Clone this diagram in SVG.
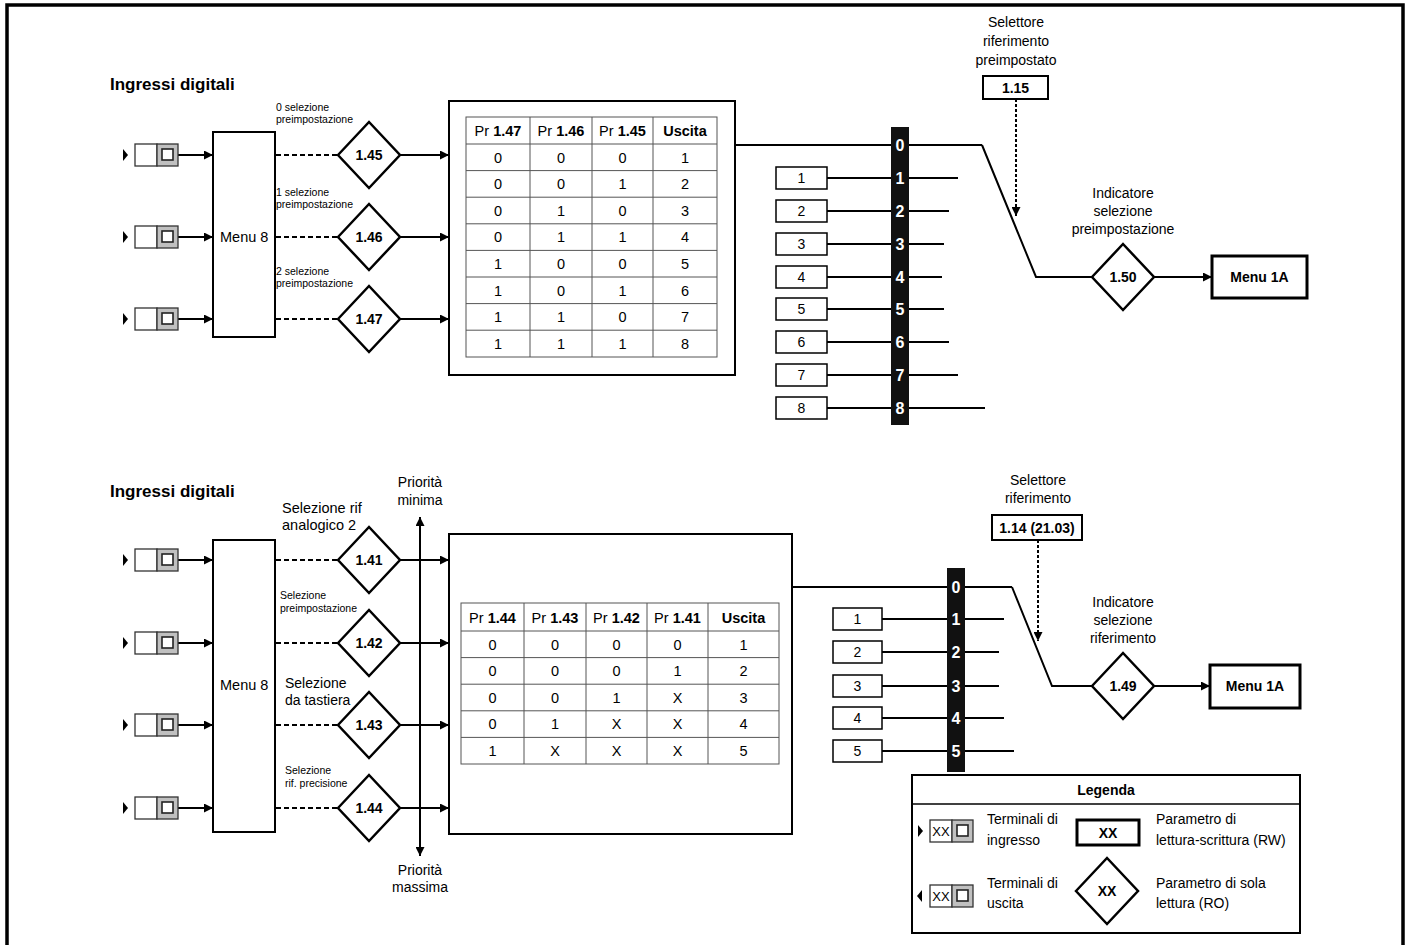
<svg xmlns="http://www.w3.org/2000/svg" xmlns:xlink="http://www.w3.org/1999/xlink" width="1412" height="945" viewBox="0 0 1412 945">
<style>
text{font-family:"Liberation Sans",Arial,sans-serif;fill:#000}
.t14{font-size:14px}
.t15{font-size:14.5px}
.t13{font-size:14.5px}
.t10{font-size:10.5px}
.b{font-weight:bold}
.mid{text-anchor:middle}
.ln{stroke:#000;stroke-width:2;fill:none}
.arr{marker-end:url(#ah)}
.dash{stroke:#000;stroke-width:2;stroke-dasharray:5 3;fill:none}
.dot{stroke:#000;stroke-width:2;stroke-dasharray:3 2;fill:none}
.box{fill:#fff;stroke:#000;stroke-width:2}
.thick{fill:#fff;stroke:#000;stroke-width:3}
.nb{fill:#fff;stroke:#000;stroke-width:1.5}
.tbl{stroke:#555;stroke-width:1;fill:none}
.bus{fill:#111}
.bd{font-size:16px;font-weight:bold;fill:#fff;text-anchor:middle}
.dia{fill:#fff;stroke:#000;stroke-width:2.5}
</style>
<defs>
<marker id="ah" viewBox="0 0 10 10" refX="10" refY="5" markerWidth="11" markerHeight="9" markerUnits="userSpaceOnUse" orient="auto-start-reverse"><path d="M0,0 L10,5 L0,10 z" fill="#000"/></marker>
<g id="term">
<path d="M-12,-6 L-7,0 L-12,6 z" fill="#000"/>
<rect x="0" y="-11" width="22" height="22" fill="#fff" stroke="#333" stroke-width="1.3"/>
<rect x="22" y="-11" width="21" height="22" fill="#c0c0c0" stroke="#333" stroke-width="1.3"/>
<rect x="27" y="-6" width="11" height="11" fill="#fff" stroke="#222" stroke-width="1.6"/>
</g>
<path id="dmd" d="M-31,0 L0,-33 L31,0 L0,33 z"/>
</defs>

<rect x="7" y="5" width="1396" height="945" fill="none" stroke="#000" stroke-width="3.5"/>

<!-- ===== TOP SECTION ===== -->
<text x="110" y="90" class="b" font-size="17">Ingressi digitali</text>

<g id="connectors">
<!-- top -->
<line x1="178" y1="155" x2="213" y2="155" class="ln arr"/>
<line x1="178" y1="237" x2="213" y2="237" class="ln arr"/>
<line x1="178" y1="319" x2="213" y2="319" class="ln arr"/>
<line x1="276" y1="155" x2="338" y2="155" class="dash"/>
<line x1="276" y1="237" x2="338" y2="237" class="dash"/>
<line x1="276" y1="319" x2="338" y2="319" class="dash"/>
<line x1="400" y1="155" x2="449" y2="155" class="ln arr"/>
<line x1="400" y1="237" x2="449" y2="237" class="ln arr"/>
<line x1="400" y1="319" x2="449" y2="319" class="ln arr"/>
<line x1="735" y1="145" x2="982" y2="145" class="ln"/>
<line x1="827" y1="178" x2="958" y2="178" class="ln"/>
<line x1="827" y1="211" x2="949" y2="211" class="ln"/>
<line x1="827" y1="244" x2="944" y2="244" class="ln"/>
<line x1="827" y1="277" x2="942" y2="277" class="ln"/>
<line x1="827" y1="309" x2="944" y2="309" class="ln"/>
<line x1="827" y1="342" x2="949" y2="342" class="ln"/>
<line x1="827" y1="375" x2="958" y2="375" class="ln"/>
<line x1="827" y1="408" x2="985" y2="408" class="ln"/>
<polyline points="982,145 1036,277 1092,277" class="ln"/>
<line x1="1016" y1="99" x2="1016" y2="216" class="dot arr"/>
<line x1="1154" y1="277" x2="1212" y2="277" class="ln arr"/>
<!-- bottom -->
<line x1="178" y1="560" x2="213" y2="560" class="ln arr"/>
<line x1="178" y1="643" x2="213" y2="643" class="ln arr"/>
<line x1="178" y1="725" x2="213" y2="725" class="ln arr"/>
<line x1="178" y1="808" x2="213" y2="808" class="ln arr"/>
<line x1="276" y1="560" x2="338" y2="560" class="dash"/>
<line x1="276" y1="643" x2="338" y2="643" class="dash"/>
<line x1="276" y1="725" x2="338" y2="725" class="dash"/>
<line x1="276" y1="808" x2="338" y2="808" class="dash"/>
<line x1="400" y1="560" x2="449" y2="560" class="ln arr"/>
<line x1="400" y1="643" x2="449" y2="643" class="ln arr"/>
<line x1="400" y1="725" x2="449" y2="725" class="ln arr"/>
<line x1="400" y1="808" x2="449" y2="808" class="ln arr"/>
<line x1="420" y1="856" x2="420" y2="517" class="ln" marker-start="url(#ah)" marker-end="url(#ah)"/>
<line x1="792" y1="587" x2="1012" y2="587" class="ln"/>
<line x1="882" y1="619" x2="1004" y2="619" class="ln"/>
<line x1="882" y1="652" x2="999" y2="652" class="ln"/>
<line x1="882" y1="686" x2="999" y2="686" class="ln"/>
<line x1="882" y1="718" x2="1004" y2="718" class="ln"/>
<line x1="882" y1="751" x2="1014" y2="751" class="ln"/>
<polyline points="1012,587 1052,686 1092,686" class="ln"/>
<line x1="1038" y1="540" x2="1038" y2="641" class="dot arr"/>
<line x1="1154" y1="686" x2="1210" y2="686" class="ln arr"/>
</g>

<g id="top-inputs">
<use xlink:href="#term" x="135" y="155"/>
<use xlink:href="#term" x="135" y="237"/>
<use xlink:href="#term" x="135" y="319"/>
</g>
<g id="top-menu8">
<rect x="213" y="132" width="62" height="205" class="box"/>
<text x="220" y="242" class="t15">Menu 8</text>
</g>
<g id="top-labels">
<text x="276" y="111" class="t10">0 selezione</text>
<text x="276" y="123" class="t10">preimpostazione</text>
<text x="276" y="196" class="t10">1 selezione</text>
<text x="276" y="208" class="t10">preimpostazione</text>
<text x="276" y="275" class="t10">2 selezione</text>
<text x="276" y="287" class="t10">preimpostazione</text>
</g>
<g id="p145"><use xlink:href="#dmd" x="369" y="155" class="dia"/><text x="369" y="160" class="t14 b mid">1.45</text></g>
<g id="p146"><use xlink:href="#dmd" x="369" y="237" class="dia"/><text x="369" y="242" class="t14 b mid">1.46</text></g>
<g id="p147"><use xlink:href="#dmd" x="369" y="319" class="dia"/><text x="369" y="324" class="t14 b mid">1.47</text></g>

<g id="top-table">
<rect x="449" y="101" width="286" height="274" class="box"/>
<rect x="466" y="117" width="251" height="240" class="tbl"/>
<path class="tbl" d="M530,117V357M592,117V357M653,117V357M466,144H717M466,170.6H717M466,197.2H717M466,223.8H717M466,250.4H717M466,277H717M466,303.6H717M466,330.2H717"/>
<g class="t13">
<text x="498" y="136" class="mid">Pr <tspan class="b">1.47</tspan></text>
<text x="561" y="136" class="mid">Pr <tspan class="b">1.46</tspan></text>
<text x="622.5" y="136" class="mid">Pr <tspan class="b">1.45</tspan></text>
<text x="685" y="136" class="mid b">Uscita</text>
</g>
<g class="t13 mid">
<text x="498" y="162.5">0</text><text x="561" y="162.5">0</text><text x="622.5" y="162.5">0</text><text x="685" y="162.5">1</text>
<text x="498" y="189.1">0</text><text x="561" y="189.1">0</text><text x="622.5" y="189.1">1</text><text x="685" y="189.1">2</text>
<text x="498" y="215.7">0</text><text x="561" y="215.7">1</text><text x="622.5" y="215.7">0</text><text x="685" y="215.7">3</text>
<text x="498" y="242.3">0</text><text x="561" y="242.3">1</text><text x="622.5" y="242.3">1</text><text x="685" y="242.3">4</text>
<text x="498" y="268.9">1</text><text x="561" y="268.9">0</text><text x="622.5" y="268.9">0</text><text x="685" y="268.9">5</text>
<text x="498" y="295.5">1</text><text x="561" y="295.5">0</text><text x="622.5" y="295.5">1</text><text x="685" y="295.5">6</text>
<text x="498" y="322.1">1</text><text x="561" y="322.1">1</text><text x="622.5" y="322.1">0</text><text x="685" y="322.1">7</text>
<text x="498" y="348.7">1</text><text x="561" y="348.7">1</text><text x="622.5" y="348.7">1</text><text x="685" y="348.7">8</text>
</g>
</g>

<g id="top-presets">
<rect x="776" y="167" width="51" height="22" class="nb"/><text x="801.5" y="183" class="t14 mid">1</text>
<rect x="776" y="200" width="51" height="22" class="nb"/><text x="801.5" y="216" class="t14 mid">2</text>
<rect x="776" y="233" width="51" height="22" class="nb"/><text x="801.5" y="249" class="t14 mid">3</text>
<rect x="776" y="266" width="51" height="22" class="nb"/><text x="801.5" y="282" class="t14 mid">4</text>
<rect x="776" y="298" width="51" height="22" class="nb"/><text x="801.5" y="314" class="t14 mid">5</text>
<rect x="776" y="331" width="51" height="22" class="nb"/><text x="801.5" y="347" class="t14 mid">6</text>
<rect x="776" y="364" width="51" height="22" class="nb"/><text x="801.5" y="380" class="t14 mid">7</text>
<rect x="776" y="397" width="51" height="22" class="nb"/><text x="801.5" y="413" class="t14 mid">8</text>
</g>

<g id="top-bus">
<rect x="891" y="127" width="18" height="298" class="bus"/>
<text x="900" y="151" class="bd">0</text>
<text x="900" y="184" class="bd">1</text>
<text x="900" y="217" class="bd">2</text>
<text x="900" y="250" class="bd">3</text>
<text x="900" y="283" class="bd">4</text>
<text x="900" y="315" class="bd">5</text>
<text x="900" y="348" class="bd">6</text>
<text x="900" y="381" class="bd">7</text>
<text x="900" y="414" class="bd">8</text>
</g>

<g id="p115">
<text x="1016" y="27" class="t14 mid">Selettore</text>
<text x="1016" y="46" class="t14 mid">riferimento</text>
<text x="1016" y="65" class="t14 mid">preimpostato</text>
<rect x="983" y="76" width="65" height="23" class="box" stroke-width="2.5"/>
<text x="1015.5" y="93" class="t14 b mid">1.15</text>
</g>

<g id="p150">
<text x="1123" y="198" class="t14 mid">Indicatore</text>
<text x="1123" y="216" class="t14 mid">selezione</text>
<text x="1123" y="234" class="t14 mid">preimpostazione</text>
<use xlink:href="#dmd" x="1123" y="277" class="dia"/>
<text x="1123" y="282" class="t14 b mid">1.50</text>
</g>
<g id="top-menu1a">
<rect x="1212" y="256" width="95" height="42" class="thick"/>
<text x="1259.5" y="282" class="t14 b mid">Menu 1A</text>
</g>

<!-- ===== BOTTOM SECTION ===== -->
<text x="110" y="497" class="b" font-size="17">Ingressi digitali</text>

<g id="bot-inputs">
<use xlink:href="#term" x="135" y="560"/>
<use xlink:href="#term" x="135" y="643"/>
<use xlink:href="#term" x="135" y="725"/>
<use xlink:href="#term" x="135" y="808"/>
</g>
<g id="bot-menu8">
<rect x="213" y="540" width="62" height="292" class="box"/>
<text x="220" y="690" class="t15">Menu 8</text>
</g>
<g id="bot-labels">
<text x="282" y="513" class="t15">Selezione rif</text>
<text x="282" y="530" class="t15">analogico 2</text>
<text x="280" y="599" class="t10">Selezione</text>
<text x="280" y="612" class="t10">preimpostazione</text>
<text x="285" y="688" class="t14">Selezione</text>
<text x="285" y="705" class="t14">da tastiera</text>
<text x="285" y="774" class="t10">Selezione</text>
<text x="285" y="787" class="t10">rif. precisione</text>
</g>
<g id="priority">
<text x="420" y="487" class="t14 mid">Priorità</text>
<text x="420" y="505" class="t14 mid">minima</text>
<text x="420" y="875" class="t14 mid">Priorità</text>
<text x="420" y="892" class="t14 mid">massima</text>
</g>
<g id="p141"><use xlink:href="#dmd" x="369" y="560" class="dia"/><text x="369" y="565" class="t14 b mid">1.41</text></g>
<g id="p142"><use xlink:href="#dmd" x="369" y="643" class="dia"/><text x="369" y="648" class="t14 b mid">1.42</text></g>
<g id="p143"><use xlink:href="#dmd" x="369" y="725" class="dia"/><text x="369" y="730" class="t14 b mid">1.43</text></g>
<g id="p144"><use xlink:href="#dmd" x="369" y="808" class="dia"/><text x="369" y="813" class="t14 b mid">1.44</text></g>

<g id="bot-table">
<rect x="449" y="534" width="343" height="300" class="box"/>
<rect x="461" y="603" width="318" height="161" class="tbl"/>
<path class="tbl" d="M524,603V764M586,603V764M647,603V764M708,603V764M461,631H779M461,657.6H779M461,684.2H779M461,710.8H779M461,737.4H779"/>
<g class="t13">
<text x="492.5" y="622.5" class="mid">Pr <tspan class="b">1.44</tspan></text>
<text x="555" y="622.5" class="mid">Pr <tspan class="b">1.43</tspan></text>
<text x="616.5" y="622.5" class="mid">Pr <tspan class="b">1.42</tspan></text>
<text x="677.5" y="622.5" class="mid">Pr <tspan class="b">1.41</tspan></text>
<text x="743.5" y="622.5" class="mid b">Uscita</text>
</g>
<g class="t13 mid">
<text x="492.5" y="649.5">0</text><text x="555" y="649.5">0</text><text x="616.5" y="649.5">0</text><text x="677.5" y="649.5">0</text><text x="743.5" y="649.5">1</text>
<text x="492.5" y="676.1">0</text><text x="555" y="676.1">0</text><text x="616.5" y="676.1">0</text><text x="677.5" y="676.1">1</text><text x="743.5" y="676.1">2</text>
<text x="492.5" y="702.7">0</text><text x="555" y="702.7">0</text><text x="616.5" y="702.7">1</text><text x="677.5" y="702.7">X</text><text x="743.5" y="702.7">3</text>
<text x="492.5" y="729.3">0</text><text x="555" y="729.3">1</text><text x="616.5" y="729.3">X</text><text x="677.5" y="729.3">X</text><text x="743.5" y="729.3">4</text>
<text x="492.5" y="755.9">1</text><text x="555" y="755.9">X</text><text x="616.5" y="755.9">X</text><text x="677.5" y="755.9">X</text><text x="743.5" y="755.9">5</text>
</g>
</g>

<g id="bot-presets">
<rect x="833" y="608" width="49" height="22" class="nb"/><text x="857.5" y="624" class="t14 mid">1</text>
<rect x="833" y="641" width="49" height="22" class="nb"/><text x="857.5" y="657" class="t14 mid">2</text>
<rect x="833" y="675" width="49" height="22" class="nb"/><text x="857.5" y="691" class="t14 mid">3</text>
<rect x="833" y="707" width="49" height="22" class="nb"/><text x="857.5" y="723" class="t14 mid">4</text>
<rect x="833" y="740" width="49" height="22" class="nb"/><text x="857.5" y="756" class="t14 mid">5</text>
</g>

<g id="bot-bus">
<rect x="947" y="568" width="18" height="204" class="bus"/>
<text x="956" y="593" class="bd">0</text>
<text x="956" y="625" class="bd">1</text>
<text x="956" y="658" class="bd">2</text>
<text x="956" y="692" class="bd">3</text>
<text x="956" y="724" class="bd">4</text>
<text x="956" y="757" class="bd">5</text>
</g>

<g id="p114">
<text x="1038" y="485" class="t14 mid">Selettore</text>
<text x="1038" y="503" class="t14 mid">riferimento</text>
<rect x="992" y="515" width="90" height="25" class="box" stroke-width="2.5"/>
<text x="1037" y="533" class="t14 b mid">1.14 (21.03)</text>
</g>

<g id="p149">
<text x="1123" y="607" class="t14 mid">Indicatore</text>
<text x="1123" y="625" class="t14 mid">selezione</text>
<text x="1123" y="643" class="t14 mid">riferimento</text>
<use xlink:href="#dmd" x="1123" y="686" class="dia"/>
<text x="1123" y="691" class="t14 b mid">1.49</text>
</g>
<g id="bot-menu1a">
<rect x="1210" y="665" width="90" height="43" class="thick"/>
<text x="1255" y="691" class="t14 b mid">Menu 1A</text>
</g>

<!-- ===== LEGEND ===== -->
<g id="legend">
<rect x="912" y="775" width="388" height="158" class="box"/>
<line x1="912" y1="804" x2="1300" y2="804" stroke="#000" stroke-width="1.5"/>
<text x="1106" y="795" class="t14 b mid">Legenda</text>
<use xlink:href="#term" x="930" y="831"/>
<text x="941" y="836" class="mid" font-size="13">XX</text>
<g transform="translate(930,896)">
<path d="M-8,-6 L-13,0 L-8,6 z" fill="#000"/>
<rect x="0" y="-11" width="22" height="22" fill="#fff" stroke="#333" stroke-width="1.3"/>
<rect x="22" y="-11" width="21" height="22" fill="#c0c0c0" stroke="#333" stroke-width="1.3"/>
<rect x="27" y="-6" width="11" height="11" fill="#fff" stroke="#222" stroke-width="1.6"/>
</g>
<text x="941" y="901" class="mid" font-size="13">XX</text>
<text x="987" y="824" class="t14">Terminali di</text>
<text x="987" y="845" class="t14">ingresso</text>
<text x="987" y="888" class="t14">Terminali di</text>
<text x="987" y="908" class="t14">uscita</text>
<rect x="1077" y="820" width="62" height="25" class="thick"/>
<text x="1108" y="838" class="t14 b mid">XX</text>
<use xlink:href="#dmd" x="1107" y="891" class="dia"/>
<text x="1107" y="896" class="t14 b mid">XX</text>
<text x="1156" y="824" class="t14">Parametro di</text>
<text x="1156" y="845" class="t14">lettura-scrittura (RW)</text>
<text x="1156" y="888" class="t14">Parametro di sola</text>
<text x="1156" y="908" class="t14">lettura (RO)</text>
</g>
</svg>
